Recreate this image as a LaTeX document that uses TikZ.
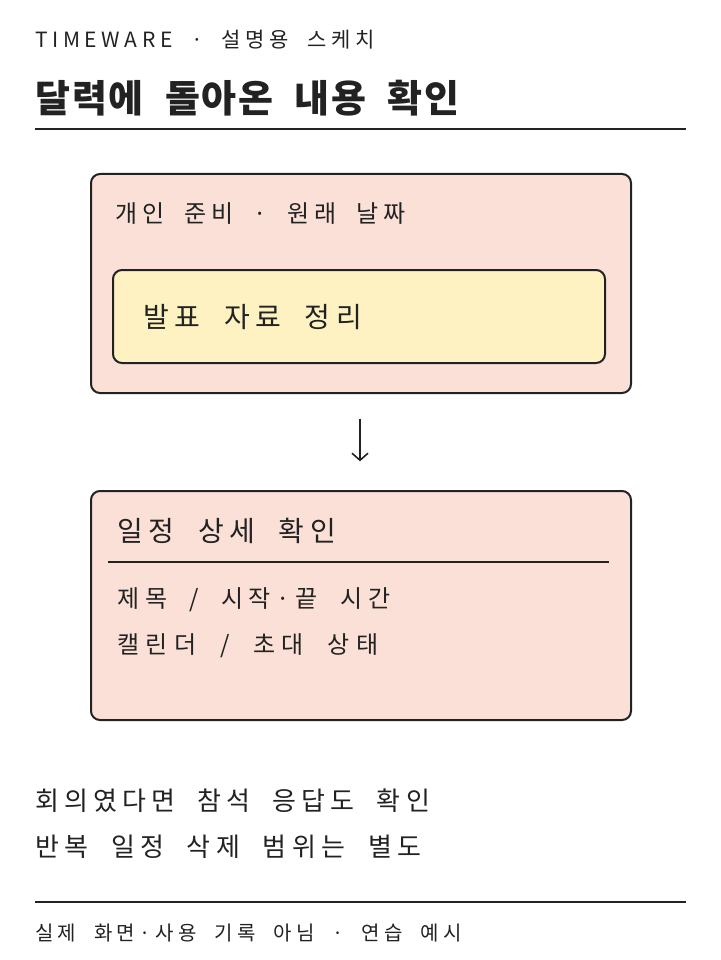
\documentclass[tikz,border=0pt]{standalone}
\usepackage{fontspec}
\setmainfont{Noto Sans CJK KR}[WordSpace=2.0]
\newfontfamily\kr{Noto Sans CJK KR}[WordSpace=2.0]
\newcommand{\krs}[2]{\kr\fontsize{#1}{#1}\selectfont\addfontfeatures{LetterSpace=#2}}
\definecolor{peach}{HTML}{FAE0D6}
\definecolor{cream}{HTML}{FEF2C3}
\definecolor{ink}{HTML}{222222}
\usetikzlibrary{arrows.meta}
\begin{document}
\begin{tikzpicture}[x=1pt,y=-1pt,
  box/.style={draw=ink,line width=2pt,rounded corners=9pt},
  txt/.style={anchor=west,inner sep=0pt,text=ink},
  rule/.style={draw=ink,line width=2pt}]
\useasboundingbox[fill=white] (0,0) rectangle (720,960);
% header
\node[txt,font=\krs{21}{22}] (sub) at (35,40) {TIMEWARE · 설명용 스케치};
\node[txt,font=\krs{38}{5}\bfseries] (title) at (35,98) {달력에 돌아온 내용 확인};
\coordinate (h1) at (35,129); \coordinate (h2) at (686,129);
\draw[rule] (h1) -- (h2);
% box 1
\node[box,fill=peach,minimum width=540pt,minimum height=219pt,anchor=north west] (b1) at (90,173) {};
\node[txt,font=\krs{24}{20}] (b1t) at (115,214) {개인 준비 · 원래 날짜};
\node[box,fill=cream,minimum width=492pt,minimum height=93pt,anchor=north west] (b1i) at (112,269) {};
\node[txt,font=\krs{28}{20}] (b1it) at (143,317) {발표 자료 정리};
% arrow
\node[inner sep=0pt] (a0) at (360,418) {};
\node[inner sep=0pt] (a1) at (360,462) {};
\draw[ink,line width=1.6pt,-{Straight Barb[length=7pt,width=16pt]}] (a0) -- (a1);
% box 2
\node[box,fill=peach,minimum width=540pt,minimum height=229pt,anchor=north west] (b2) at (90,490) {};
\node[txt,font=\krs{28}{20}] (b2t) at (117,531) {일정 상세 확인};
\coordinate (r1) at (108,562); \coordinate (r2) at (609,562);
\draw[rule,line width=1.5pt] (r1) -- (r2);
\node[txt,font=\krs{24}{24}] (l1) at (117,600) {제목 / 시작·끝 시간};
\node[txt,font=\krs{24}{27}] (l2) at (117,646) {캘린더 / 초대 상태};
% notes
\node[txt,font=\krs{26}{20}] (n1) at (35,801) {회의였다면 참석 응답도 확인};
\node[txt,font=\krs{26}{21}] (n2) at (35,847) {반복 일정 삭제 범위는 별도};
\coordinate (f1) at (35,902); \coordinate (f2) at (686,902);
\draw[rule,line width=1.5pt] (f1) -- (f2);
\node[txt,font=\krs{20}{22}] (foot) at (35,933) {실제 화면·사용 기록 아님 · 연습 예시};
\end{tikzpicture}
\end{document}
